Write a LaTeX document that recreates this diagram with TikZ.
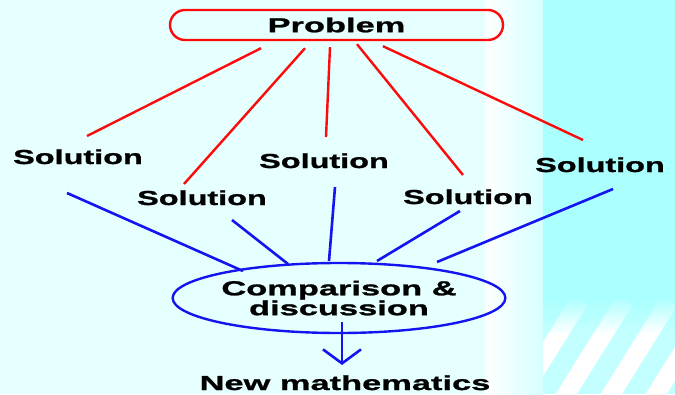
\documentclass[tikz,border=0pt]{standalone}
\usepackage{fontspec}
\setmainfont{Liberation Sans}[FakeStretch=1.7, BoldFeatures={FakeBold=1.2}]
\newfontfamily\solfont{Liberation Sans}[FakeStretch=1.6, BoldFeatures={FakeBold=1.2}]
\usetikzlibrary{arrows.meta,shapes.geometric,calc,fadings}
\definecolor{bgleft}{HTML}{E6FFFF}
\definecolor{bgright}{HTML}{AAFFFF}
\definecolor{stripebg}{HTML}{C4FFFF}
\definecolor{probred}{HTML}{FF0A0A}
\definecolor{discblue}{HTML}{1414F0}

\begin{document}
\begin{tikzpicture}[x=1pt, y=-1pt,
  font=\fontsize{20.25}{18.5}\selectfont\bfseries,
  problembox/.style={draw=probred, line width=2.4pt, rounded corners=15pt,
              minimum width=333pt, minimum height=30pt, inner sep=0pt},
  solution/.style={font=\fontsize{20.25}{18.5}\selectfont\solfont\bfseries,
              anchor=base, inner sep=1pt},
  discbox/.style={ellipse, draw=discblue, line width=2.4pt, align=center,
              minimum width=323pt, minimum height=70pt, inner sep=0pt},
  redline/.style={draw=probred, line width=2.4pt},
  blueline/.style={draw=discblue, line width=2.6pt},
  flow/.style={blueline, -{Straight Barb[length=14pt,width=38pt]}},
]
\useasboundingbox (0,0) rectangle (675,394);

% background
\fill[bgleft] (0,0) rectangle (485,394);
\shade[left color=white!96!bgleft, right color=bgleft!75!bgright] (485,0) rectangle (543,394);
\fill[bgright] (543,0) rectangle (675,394);
\begin{scope}
  \clip (543,300) rectangle (675,394);
  \fill[stripebg] (543,300) rectangle (675,394);
  \foreach \sx in {505,550,...,700}
    \draw[white, line width=18pt] (\sx,420) -- ++(75,-120);
  \fill[bgright, path fading=south] (543,296) rectangle (675,334);
\end{scope}

\node[problembox] (problem) at (336.5,25) {Problem};

\node[solution] (s1) at (78,164)  {Solution};
\node[solution] (s2) at (202,205) {Solution};
\node[solution] (s3) at (324,168) {Solution};
\node[solution] (s4) at (468,204) {Solution};
\node[solution] (s5) at (600,172) {Solution};

\node[discbox] (comp) at (339,298) {Comparison \&\\discussion};
\node[anchor=base] (newmath) at (345,390) {New mathematics};

\draw[redline] ($(problem.south)+(-75.5,7)$) -- ($(s1.base)+(9,-28)$);
\draw[redline] ($(problem.south)+(-31.5,7)$) -- ($(s2.base)+(-18,-21)$);
\draw[redline] ($(problem.south)+(-6.5,6)$)  -- ($(s3.base)+(2,-31)$);
\draw[redline] ($(problem.south)+(20.5,3)$)  -- ($(s4.base)+(-5,-29)$);
\draw[redline] ($(problem.south)+(46.5,5)$)  -- ($(s5.base)+(-17,-32)$);

\draw[blueline] ($(s1.base)+(-11,29)$) -- ($(comp.center)+(-96,-27)$);
\draw[blueline] ($(s2.base)+(30,15)$)  -- ($(comp.center)+(-51,-34)$);
\draw[blueline] ($(s3.base)+(11,19)$)  -- ($(comp.center)+(-10,-37)$);
\draw[blueline] ($(s4.base)+(-8,7)$)   -- ($(comp.center)+(38,-37)$);
\draw[blueline] ($(s5.base)+(13,17)$)  -- ($(comp.center)+(98,-36)$);

\draw[flow] ($(comp.center)+(3,24)$) -- ($(newmath.base)+(-3,-25)$);

\end{tikzpicture}
\end{document}
